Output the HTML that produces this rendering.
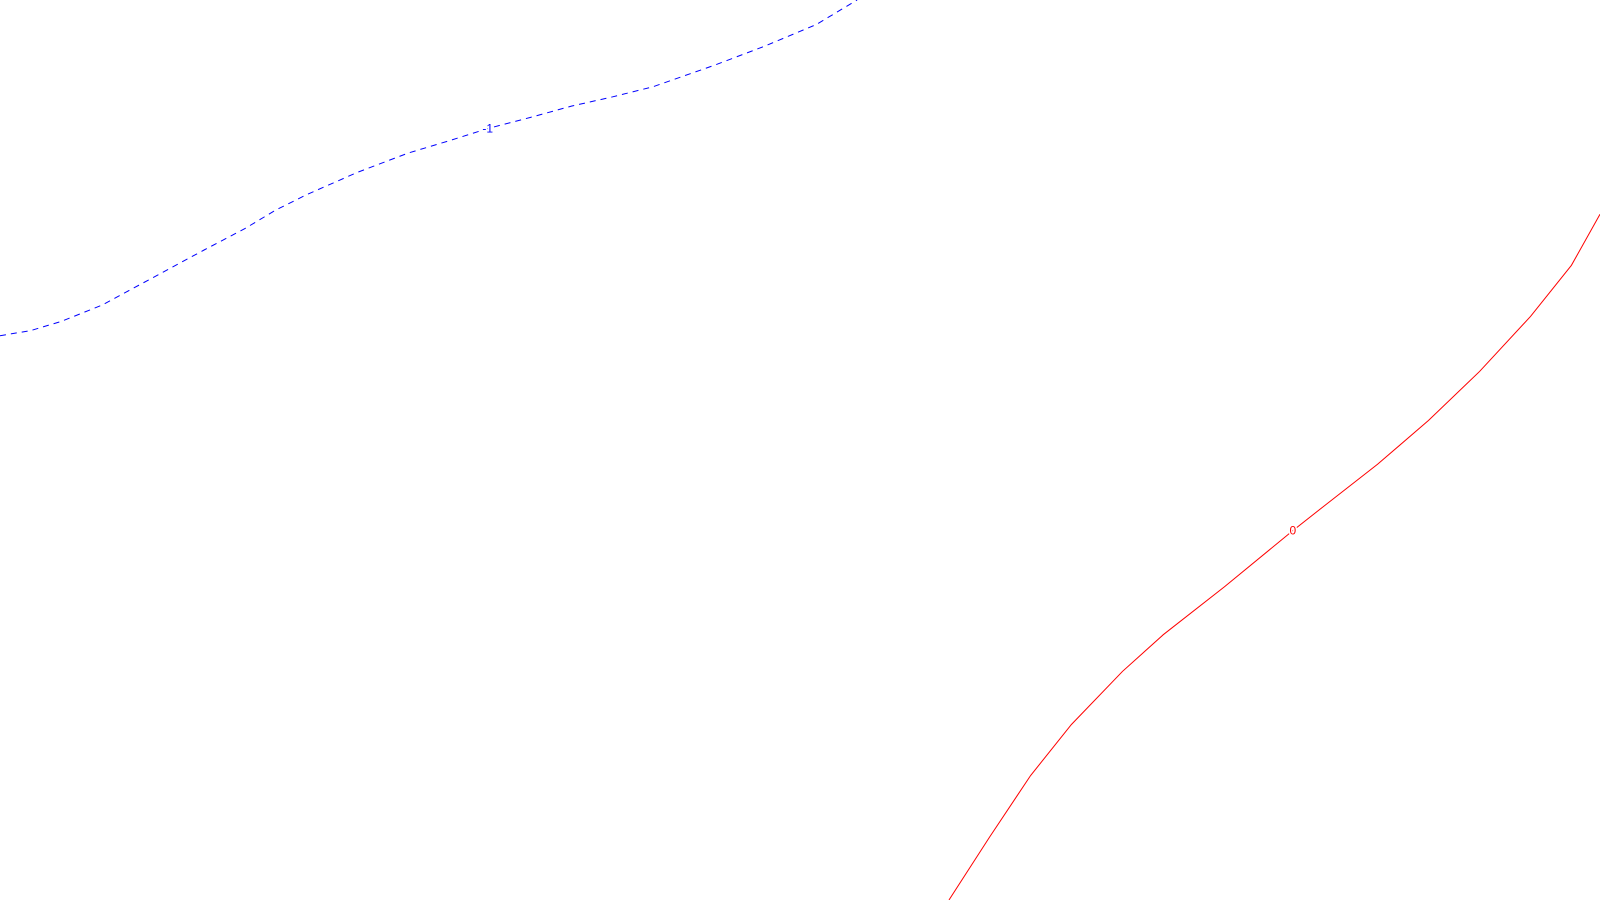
<!DOCTYPE html>
<html><head><meta charset="utf-8"><style>html,body{margin:0;padding:0;background:#fff;width:1600px;height:900px;overflow:hidden}</style></head>
<body>
<svg id="chart" width="1600" height="900" xmlns="http://www.w3.org/2000/svg"></svg>
<script>
const blueX=[0,30,60,100,150,200,240,270,300,350,400,440,478,520,560,600,640,700,750,800,840];
const blueY=[329,324,315,299,272,245,224,206,191,169,150,138,126,115,104,95,85,64,45,24,0];
const redX=[930,970,1010,1050,1100,1140,1200,1267,1300,1350,1400,1450,1500,1540,1568];
const redY=[882,820,760,710,658,622,575,520,494,455,412,364,310,260,210];
const levelLabels=["-1","0"];
const labelIdx=[12,7];
const K=1600/1568;
const sx=v=>v*K, sy=v=>v*K;
const svg=document.getElementById('chart');
const NS='http://www.w3.org/2000/svg';
function draw(xs,ys,color,dash,name,lab,li){
  const p=document.createElementNS(NS,'path');
  
  
  p.setAttribute('d',xs.map((x,i)=>(i?'L':'M')+sx(x)+','+sy(ys[i])).join(''));
  p.setAttribute('fill','none');p.setAttribute('stroke',color);p.setAttribute('stroke-width','1');
  if(dash)p.setAttribute('stroke-dasharray',dash);
  svg.appendChild(p);
  const t=document.createElementNS(NS,'text');
  
  
  t.setAttribute('x',sx(xs[li]));t.setAttribute('y',sy(ys[li])+4);
  t.setAttribute('text-anchor','middle');t.setAttribute('font-size','12');
  t.setAttribute('font-family','Liberation Sans, sans-serif');t.setAttribute('fill',color);
  t.setAttribute('stroke','#fff');t.setAttribute('stroke-width','3');t.setAttribute('paint-order','stroke');
  t.textContent=lab;svg.appendChild(t);
}
draw(blueX,blueY,'#0000ff','6,5','contour-line-minus-1',levelLabels[0],labelIdx[0]);
draw(redX,redY,'#ff0000',null,'contour-line-0',levelLabels[1],labelIdx[1]);
</script>
</body></html>
